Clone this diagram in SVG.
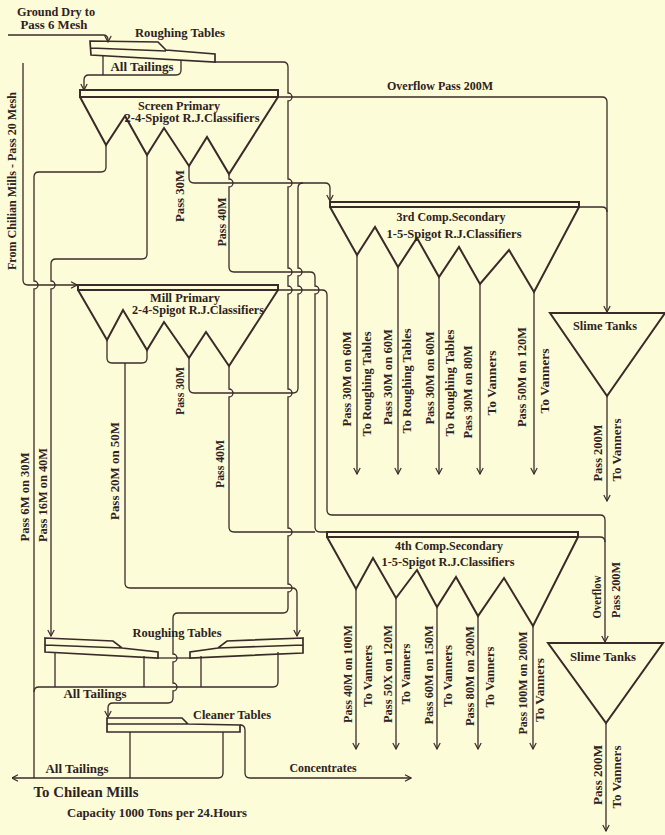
<svg xmlns="http://www.w3.org/2000/svg" width="665" height="835" viewBox="0 0 665 835">
<defs>
<marker id="arr" viewBox="0 0 8 8" refX="7.5" refY="4" markerWidth="8" markerHeight="8" markerUnits="userSpaceOnUse" orient="auto">
<path d="M1.5,0.8 L7.5,4 L1.5,7.2" fill="none" stroke="#3a2a2a" stroke-width="1.2"/>
</marker>
<style>
.bg{fill:#fcfcd8}
.unit{fill:none;stroke:#3a2a2a;stroke-width:2;stroke-linejoin:miter}
.tbl{fill:none;stroke:#3a2a2a;stroke-width:1.7}
.ln{fill:none;stroke:#3a2a2a;stroke-width:1.3}
.ar{marker-end:url(#arr)}
text{font-family:"Liberation Serif","DejaVu Serif",serif;font-weight:bold;fill:#2e2222;text-anchor:middle}
.t12{font-size:12.5px}
.t11{font-size:11.5px}
.t13{font-size:14px}
.rot{font-size:11.5px}
</style>
</defs>
<rect class="bg" x="0" y="0" width="665" height="835"/>

<!-- pipes and launders -->
<g id="connectors">
<path class="ln ar" d="M8,35 H103 Q108,35 108,40 V42"/>
<path class="ln" d="M103,56 V75"/>
<path class="ln ar" d="M181,60 V70 Q181,75 176,75 H89 Q84,75 84,80 V90"/>
<path class="ln ar" d="M215,62 H283 Q288,62 288,67 V93 a4,4 0 0 1 0,8 V179 a4,4 0 0 1 0,8 V268 a4,4 0 0 1 0,8 V286 a4,4 0 0 1 0,8 V389 a4,4 0 0 1 0,8 V528 a4,4 0 0 1 0,8 V584 a4,4 0 0 1 0,8 V608 Q288,613 283,613 H178 Q173,613 173,618 V654 a4,4 0 0 1 0,8 V683 a4,4 0 0 1 0,8 V698 Q173,703 168,703 H113 Q108,703 108,708 V717"/>
<path class="ln ar" d="M278,97 H602 Q607,97 607,102 V312"/>
<path class="ln" d="M579,207 H602 Q607,207 607,212"/>
<path class="ln" d="M106,145 V167 Q106,172 101,172 H39 Q34,172 34,177 V281 a4,4 0 0 1 0,8 V778"/>
<path class="ln ar" d="M147,155 V254 Q147,259 142,259 H56 Q51,259 51,264 V281 a4,4 0 0 1 0,8 V636"/>
<path class="ln ar" d="M23,63 V280 Q23,285 28,285 H77"/>
<path class="ln ar" d="M189,166 V178 Q189,183 194,183 H325 Q330,183 330,188 V201"/>
<path class="ln" d="M229,174 V179 a4,4 0 0 1 0,8 V267 Q229,272 234,272 H310 Q315,272 315,277 V286 a4,4 0 0 1 0,8 V527 Q315,532 320,532 H327"/>
<path class="ln" d="M107,340 V358 Q107,363 112,363 H142 Q147,363 147,358 V350"/>
<path class="ln ar" d="M125,363 V583 Q125,588 130,588 H292 Q297,588 297,593 V636"/>
<path class="ln" d="M303,183 Q298,183 298,188 V268 a4,4 0 0 1 0,8 V286 a4,4 0 0 1 0,8 V388 Q298,393 293,393 H194 Q189,393 189,388 V358"/>
<path class="ln" d="M229,366 V389 a4,4 0 0 1 0,8 V527 Q229,532 234,532 H315"/>
<path class="ln ar" d="M278,290 H322 Q327,290 327,295 V510 Q327,515 332,515 H600 Q605,515 605,520 V642"/>
<path class="ln" d="M578,537 H600 Q605,537 605,542"/>
<path class="ln ar" d="M357,255 V474"/>
<path class="ln ar" d="M398,267 V474"/>
<path class="ln ar" d="M439,277 V474"/>
<path class="ln ar" d="M480,284 V474"/>
<path class="ln ar" d="M534,292 V474"/>
<path class="ln ar" d="M607,396 V501"/>
<path class="ln ar" d="M356,589 V749"/>
<path class="ln ar" d="M396,598 V749"/>
<path class="ln ar" d="M437,607 V749"/>
<path class="ln ar" d="M478,616 V749"/>
<path class="ln ar" d="M533,626 V749"/>
<path class="ln ar" d="M606,723 V831"/>
<path class="ln" d="M55,652 V687 M144,656 V687 M201,656 V687"/>
<path class="ln" d="M278,652 V682 Q278,687 273,687 H39 Q34,687 34,692"/>
<path class="ln" d="M158,658 H190"/>
<path class="ln" d="M130,732 V778"/>
<path class="ln ar" d="M223,732 V773 Q223,778 218,778 H12"/>
<path class="ln ar" d="M240,725 Q245,725 245,730 V773 Q245,778 250,778 H411"/>
</g>

<g id="roughing-top">
<path class="tbl" d="M90,41 L158,42 L166,50 L215,54 L215,62 L91,55 Z M91,48 L166,51"/>
<text class="t12" x="180" y="37" textLength="90" lengthAdjust="spacingAndGlyphs">Roughing Tables</text>
<text class="t11" x="142" y="71" textLength="63" lengthAdjust="spacingAndGlyphs">All Tailings</text>
</g>

<g id="screen-primary">
<rect class="unit" x="80" y="90" width="198" height="7"/>
<polyline class="unit" points="80,97 106,145 125,116 147,155 164,128 189,166 207,137 229,174 278,97"/>
<text class="t12" x="179" y="110" textLength="82" lengthAdjust="spacingAndGlyphs">Screen Primary</text>
<text class="t11" x="192" y="122" textLength="135" lengthAdjust="spacingAndGlyphs">2-4-Spigot R.J.Classifiers</text>
</g>

<g id="mill-primary">
<rect class="unit" x="78" y="285" width="200" height="5"/>
<polyline class="unit" points="78,290 107,340 123,310 147,350 164,322 189,358 206,332 229,366 278,290"/>
<text class="t12" x="185" y="302" textLength="70" lengthAdjust="spacingAndGlyphs">Mill Primary</text>
<text class="t11" x="198" y="314" textLength="132" lengthAdjust="spacingAndGlyphs">2-4-Spigot R.J.Classifiers</text>
</g>

<g id="third-secondary">
<rect class="unit" x="330" y="202" width="249" height="5"/>
<polyline class="unit" points="330,207 357,255 375,227 398,267 417,238 439,277 459,247 480,284 509,250 534,292 579,207"/>
<text class="t12" x="451" y="221" textLength="109" lengthAdjust="spacingAndGlyphs">3rd Comp.Secondary</text>
<text class="t11" x="454" y="238" textLength="135" lengthAdjust="spacingAndGlyphs">1-5-Spigot R.J.Classifiers</text>
</g>

<g id="fourth-secondary">
<rect class="unit" x="327" y="532" width="251" height="5"/>
<polyline class="unit" points="327,537 356,589 373,558 396,598 417,570 437,607 456,577 478,616 504,578 533,626 578,537"/>
<text class="t12" x="449" y="550" textLength="108" lengthAdjust="spacingAndGlyphs">4th Comp.Secondary</text>
<text class="t11" x="448" y="566" textLength="133" lengthAdjust="spacingAndGlyphs">1-5-Spigot R.J.Classifiers</text>
</g>

<g id="slime-upper">
<polygon class="unit" points="550,313 665,313 607,396"/>
<text class="t11" x="605" y="330" textLength="64" lengthAdjust="spacingAndGlyphs">Slime Tanks</text>
</g>

<g id="slime-lower">
<polygon class="unit" points="548,643 663,643 606,723"/>
<text class="t11" x="603" y="661" textLength="66" lengthAdjust="spacingAndGlyphs">Slime Tanks</text>
</g>

<g id="roughing-left">
<path class="tbl" d="M45,638 L113,641 L122,648 L158,652 L158,658 L45,652 Z M45,645 L122,648"/>
</g>

<g id="roughing-right">
<path class="tbl" d="M303,638 L227,641 L218,648 L190,652 L190,658 L303,653 Z M303,645 L218,648"/>
<text class="t12" x="177" y="637" textLength="89" lengthAdjust="spacingAndGlyphs">Roughing Tables</text>
</g>

<g id="cleaner">
<path class="tbl" d="M107,718 L182,718 L188,724 L240,725 L240,732 L107,732 Z M107,724 L188,724"/>
<text class="t12" x="232" y="719" textLength="78" lengthAdjust="spacingAndGlyphs">Cleaner Tables</text>
</g>

<!-- stream labels -->
<g id="labels">
<text class="t12" x="56" y="16" textLength="78" lengthAdjust="spacingAndGlyphs">Ground Dry to</text>
<text class="t12" x="54" y="29" textLength="67" lengthAdjust="spacingAndGlyphs">Pass 6 Mesh</text>
<text class="t11" x="440" y="90" textLength="106" lengthAdjust="spacingAndGlyphs">Overflow Pass 200M</text>
<text class="t11" x="95" y="698" textLength="63" lengthAdjust="spacingAndGlyphs">All Tailings</text>
<text class="t11" x="77" y="773" textLength="63" lengthAdjust="spacingAndGlyphs">All Tailings</text>
<text class="t11" x="323" y="772" textLength="67" lengthAdjust="spacingAndGlyphs">Concentrates</text>
<text class="t13" x="86" y="797" textLength="105" lengthAdjust="spacingAndGlyphs">To Chilean Mills</text>
<text class="t11" x="157" y="817" textLength="180" lengthAdjust="spacingAndGlyphs">Capacity 1000 Tons per 24.Hours</text>

<g class="rot">
<text transform="translate(12,181) rotate(-90)" dy="0.35em" textLength="178" lengthAdjust="spacingAndGlyphs">From Chilian Mills - Pass 20 Mesh</text>
<text transform="translate(180,196) rotate(-90)" dy="0.35em" textLength="52" lengthAdjust="spacingAndGlyphs">Pass 30M</text>
<text transform="translate(222,222) rotate(-90)" dy="0.35em" textLength="49" lengthAdjust="spacingAndGlyphs">Pass 40M</text>
<text transform="translate(180,391) rotate(-90)" dy="0.35em" textLength="48" lengthAdjust="spacingAndGlyphs">Pass 30M</text>
<text transform="translate(25,497) rotate(-90)" dy="0.35em" textLength="89" lengthAdjust="spacingAndGlyphs">Pass 6M on 30M</text>
<text transform="translate(43,495) rotate(-90)" dy="0.35em" textLength="94" lengthAdjust="spacingAndGlyphs">Pass 16M on 40M</text>
<text transform="translate(115,471) rotate(-90)" dy="0.35em" textLength="98" lengthAdjust="spacingAndGlyphs">Pass 20M on 50M</text>
<text transform="translate(220,464) rotate(-90)" dy="0.35em" textLength="48" lengthAdjust="spacingAndGlyphs">Pass 40M</text>

<text transform="translate(347,379) rotate(-90)" dy="0.35em" textLength="95" lengthAdjust="spacingAndGlyphs">Pass 30M on 60M</text>
<text transform="translate(367,384) rotate(-90)" dy="0.35em" textLength="105" lengthAdjust="spacingAndGlyphs">To Roughing Tables</text>
<text transform="translate(388,377) rotate(-90)" dy="0.35em" textLength="96" lengthAdjust="spacingAndGlyphs">Pass 30M on 60M</text>
<text transform="translate(407,381) rotate(-90)" dy="0.35em" textLength="105" lengthAdjust="spacingAndGlyphs">To Roughing Tables</text>
<text transform="translate(430,378) rotate(-90)" dy="0.35em" textLength="93" lengthAdjust="spacingAndGlyphs">Pass 30M on 60M</text>
<text transform="translate(450,383) rotate(-90)" dy="0.35em" textLength="107" lengthAdjust="spacingAndGlyphs">To Roughing Tables</text>
<text transform="translate(468,392) rotate(-90)" dy="0.35em" textLength="93" lengthAdjust="spacingAndGlyphs">Pass 30M on 80M</text>
<text transform="translate(492,383) rotate(-90)" dy="0.35em" textLength="65" lengthAdjust="spacingAndGlyphs">To Vanners</text>
<text transform="translate(522,377) rotate(-90)" dy="0.35em" textLength="100" lengthAdjust="spacingAndGlyphs">Pass 50M on 120M</text>
<text transform="translate(545,381) rotate(-90)" dy="0.35em" textLength="65" lengthAdjust="spacingAndGlyphs">To Vanners</text>

<text transform="translate(598,453) rotate(-90)" dy="0.35em" textLength="57" lengthAdjust="spacingAndGlyphs">Pass 200M</text>
<text transform="translate(617,450) rotate(-90)" dy="0.35em" textLength="63" lengthAdjust="spacingAndGlyphs">To Vanners</text>

<text transform="translate(348,674) rotate(-90)" dy="0.35em" textLength="98" lengthAdjust="spacingAndGlyphs">Pass 40M on 100M</text>
<text transform="translate(368,676) rotate(-90)" dy="0.35em" textLength="62" lengthAdjust="spacingAndGlyphs">To Vanners</text>
<text transform="translate(388,674) rotate(-90)" dy="0.35em" textLength="98" lengthAdjust="spacingAndGlyphs">Pass 50X on 120M</text>
<text transform="translate(406,674) rotate(-90)" dy="0.35em" textLength="61" lengthAdjust="spacingAndGlyphs">To Vanners</text>
<text transform="translate(429,675) rotate(-90)" dy="0.35em" textLength="99" lengthAdjust="spacingAndGlyphs">Pass 60M on 150M</text>
<text transform="translate(448,676) rotate(-90)" dy="0.35em" textLength="62" lengthAdjust="spacingAndGlyphs">To Vanners</text>
<text transform="translate(470,676) rotate(-90)" dy="0.35em" textLength="100" lengthAdjust="spacingAndGlyphs">Pass 80M on 200M</text>
<text transform="translate(490,677) rotate(-90)" dy="0.35em" textLength="61" lengthAdjust="spacingAndGlyphs">To Vanners</text>
<text transform="translate(523,683) rotate(-90)" dy="0.35em" textLength="103" lengthAdjust="spacingAndGlyphs">Pass 100M on 200M</text>
<text transform="translate(540,690) rotate(-90)" dy="0.35em" textLength="64" lengthAdjust="spacingAndGlyphs">To Vanners</text>

<text transform="translate(597,597) rotate(-90)" dy="0.35em" textLength="43" lengthAdjust="spacingAndGlyphs">Overflow</text>
<text transform="translate(616,590) rotate(-90)" dy="0.35em" textLength="56" lengthAdjust="spacingAndGlyphs">Pass 200M</text>
<text transform="translate(598,775) rotate(-90)" dy="0.35em" textLength="60" lengthAdjust="spacingAndGlyphs">Pass 200M</text>
<text transform="translate(617,777) rotate(-90)" dy="0.35em" textLength="63" lengthAdjust="spacingAndGlyphs">To Vanners</text>
</g>
</g>
</svg>
